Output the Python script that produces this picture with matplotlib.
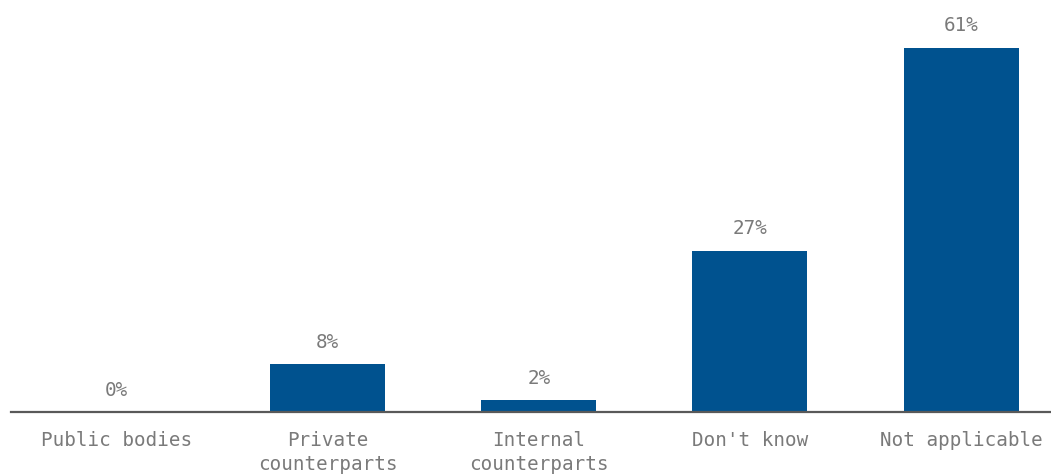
import matplotlib
matplotlib.use("Agg")
import matplotlib.pyplot as plt

categories = ["Public bodies", "Private\ncounterparts", "Internal\ncounterparts", "Don't know", "Not applicable"]
values = [0, 8, 2, 27, 61]

BAR_COLOR = "#00528F"
TEXT_COLOR = "#7A7A7A"
AXIS_COLOR = "#595959"

plt.rcParams["font.family"] = ["DejaVu Sans Mono"]

W, H = 1051, 475
fig = plt.figure(figsize=(W / 100, H / 100), dpi=100)
ax = fig.add_axes([11 / W, 63 / H, 1055.6 / W, 388 / H])

x = list(range(len(categories)))
ax.bar(x, values, width=0.545, color=BAR_COLOR)
ax.set_xlim(-0.5, len(categories) - 0.5)
ax.set_ylim(0, 65)

for xi, v in zip(x, values):
    ax.annotate(f"{v}%", (xi, v), xytext=(0, 9), textcoords="offset points",
                ha="center", va="bottom", fontsize=13.9, color=TEXT_COLOR)

ax.set_xticks(x)
ax.set_xticklabels(categories, fontsize=13.9, color=TEXT_COLOR, linespacing=1.35)
ax.tick_params(axis="x", length=0, pad=13.5)
ax.set_yticks([])
for side in ["top", "right", "left"]:
    ax.spines[side].set_visible(False)
ax.spines["bottom"].set_color(AXIS_COLOR)
ax.spines["bottom"].set_linewidth(1.6)

fig.savefig("out.png", dpi=100)
